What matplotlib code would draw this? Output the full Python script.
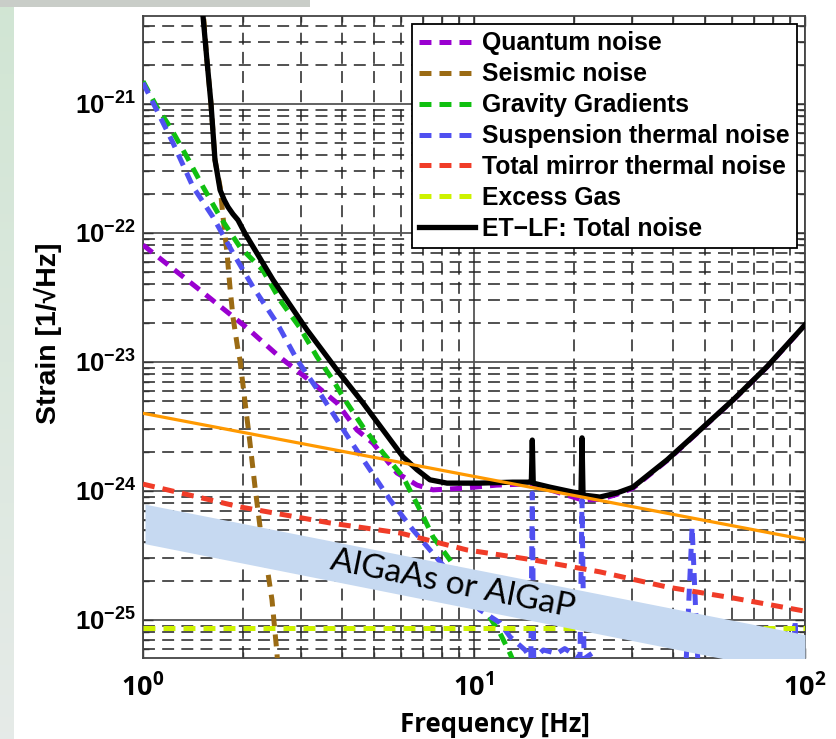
import numpy as np
import matplotlib
matplotlib.use('Agg')
import matplotlib.pyplot as plt
from matplotlib.ticker import LogLocator, NullFormatter, FixedLocator

plt.rcParams['lines.scale_dashes'] = False
plt.rcParams['mathtext.fontset'] = 'custom'
plt.rcParams['mathtext.bf'] = 'Liberation Sans:bold'
plt.rcParams['mathtext.rm'] = 'Liberation Sans:bold'
plt.rcParams['mathtext.sf'] = 'Open Sans:bold'

# ---------------- data ----------------
total_f = [1.48, 1.56, 1.605, 1.65, 1.71, 1.76, 1.806, 1.87, 1.936, 2.03, 2.47, 3.13, 3.855,
           4.62, 5.31, 6.10, 6.73, 7.36, 8.29, 10.4, 13.1, 14.56, 14.9, 15.0, 15.1, 16.97,
           19.9, 21.05, 21.2, 21.35, 24.0, 27.0, 30.2, 38.3, 48.2, 60.6, 76.8, 100.0]
total_h = [1.0e-20, 2.19e-21, 1.0e-21, 3.68e-22, 2.15e-22, 1.8e-22, 1.59e-22, 1.4e-22,
           1.26e-22, 1.0e-22, 4.33e-23, 1.77e-23, 8.67e-24, 4.81e-24, 2.97e-24, 1.84e-24,
           1.46e-24, 1.22e-24, 1.15e-24, 1.15e-24, 1.17e-24, 1.17e-24, 1.17e-24, 2.48e-24,
           1.15e-24, 1.07e-24, 9.8e-25, 9.6e-25, 2.58e-24, 9.3e-25, 8.97e-25, 9.64e-25,
           1.07e-24, 1.74e-24, 2.97e-24, 5.07e-24, 9.2e-24, 1.94e-23]

quantum_f = [1.0, 1.486, 2.06, 2.59, 3.26, 3.855, 4.43, 4.95, 5.85, 6.73, 7.52, 9.27, 11.7,
             14.06, 16.97, 21.3, 24.0, 27.0, 30.2, 38.3, 48.2, 60.6, 76.8, 100.0]
quantum_h = [8.07e-23, 3.61e-23, 1.84e-23, 1.09e-23, 6.87e-24, 4.81e-24, 2.97e-24, 2.35e-24,
             1.38e-24, 1.11e-24, 1.02e-24, 1.05e-24, 1.11e-24, 1.13e-24, 1.02e-24, 8.5e-25,
             8.6e-25, 9.4e-25, 1.05e-24, 1.72e-24, 2.95e-24, 5.05e-24, 9.15e-24, 1.93e-23]

seismic_f = [1.486, 1.56, 1.605, 1.65, 1.71, 1.745, 1.794, 1.831, 1.87, 1.936, 1.963, 2.03,
             2.105, 2.18, 2.257, 2.37, 2.453, 2.54, 2.577]
seismic_h = [1.1e-20, 2.19e-21, 1.0e-21, 3.68e-22, 2.28e-22, 1.33e-22, 7.0e-23, 3.81e-23,
             2.23e-23, 1.24e-23, 1.04e-23, 5.07e-24, 2.35e-24, 1.07e-24, 5.26e-25, 2.58e-25,
             1.43e-25, 5.5e-26, 2.9e-26]

gravity_f = [1.0, 1.10, 1.207, 1.358, 1.518, 1.71, 1.963, 2.30, 2.59, 2.98, 3.36, 3.75, 4.02,
             4.62, 5.31, 6.10, 6.87, 7.52, 8.46, 9.52, 10.95, 11.98, 12.85, 13.6]
gravity_h = [1.5e-21, 9.5e-22, 6.64e-22, 3.88e-22, 2.28e-22, 1.33e-22, 7.78e-23, 5.16e-23,
             3.03e-23, 1.84e-23, 1.09e-23, 7.24e-24, 5.36e-24, 3.13e-24, 1.97e-24, 1.29e-24,
             7.13e-25, 4.4e-25, 2.92e-25, 1.8e-25, 1.13e-25, 7.9e-26, 5.5e-26, 3.9e-26]

suspension_f = [1.0, 1.10, 1.232, 1.416, 1.627, 1.87, 2.15, 2.54, 2.92, 3.42, 4.22, 4.85, 5.58,
                6.54, 7.36, 8.29, 9.27, 10.4, 11.98, 12.85, 14.26, 14.85, 15.0, 15.15, 16.2,
                17.8, 18.8, 20.9, 21.2, 21.5, 22.7, 24.0, 43.7, 45.6, 47.5, 92.0, 93.3, 94.6]
suspension_h = [1.46e-21, 8.98e-22, 4.99e-22, 2.28e-22, 1.33e-22, 7.0e-23, 3.81e-23, 2.0e-23,
                1.04e-23, 5.75e-24, 2.48e-24, 1.46e-24, 8.51e-25, 4.99e-25, 3.49e-25, 2.44e-25,
                1.8e-25, 1.2e-25, 9.5e-26, 7.4e-26, 5.85e-26, 5.0e-26, 9.6e-25, 5.0e-26,
                5.85e-26, 5.5e-26, 6.0e-26, 5.0e-26, 8.5e-25, 5.0e-26, 5.5e-26, 3.0e-26,
                4.5e-26, 5.26e-25, 4.5e-26, 3.0e-26, 1.0e-25, 3.0e-26]

mirror_f = [1.0, 1.963, 3.67, 5.98, 9.52, 15.1, 24.0, 38.3, 60.6, 100.0]
mirror_h = [1.13e-24, 7.52e-25, 5.65e-25, 4.72e-25, 3.49e-25, 2.92e-25, 2.36e-25, 1.8e-25,
            1.48e-25, 1.17e-25]

gas_f = [1.0, 100.0]
gas_h = [8.7e-26, 8.7e-26]

orange_f = [1.0, 100.0]
orange_h = [4.0e-24, 4.2e-25]

band_f = [1.014, 100.0]
band_top = [7.9e-25, 7.7e-26]
band_bottom = [3.9e-25, 3.75e-26]
band_label = 'AlGaAs or AlGaP'
band_label_pos = (8.6, 1.9e-25)

labels = ['Quantum noise', 'Seismic noise', 'Gravity Gradients', 'Suspension thermal noise',
          'Total mirror thermal noise', 'Excess Gas', 'ET\u2212LF: Total noise']
colors = ['#9a00d0', '#9b6b14', '#10c010', '#5050f0', '#f03c28', '#cdf200', '#000000']

xticks = [1, 10, 100]
xticklabels = [r'$\mathsf{10^{0}}$', r'$\mathsf{10^{1}}$', r'$\mathsf{10^{2}}$']
yticks = [1e-25, 1e-24, 1e-23, 1e-22, 1e-21]
yticklabels = [r'$\mathbf{10^{-25}}$', r'$\mathbf{10^{-24}}$', r'$\mathbf{10^{-23}}$',
               r'$\mathbf{10^{-22}}$', r'$\mathbf{10^{-21}}$']

# ---------------- figure ----------------
W, H = 836, 739
fig = plt.figure(figsize=(W / 100, H / 100), dpi=100, facecolor='white')

# slide background strips
bg = fig.add_axes([0, 0, 14 / W, 1], zorder=-20)
grad = np.linspace(0, 1, 100).reshape(-1, 1)
c_top = np.array([0.82, 0.90, 0.83])
c_bot = np.array([0.90, 0.92, 0.91])
img = c_top[None, None, :] * (1 - grad[:, :, None]) + c_bot[None, None, :] * grad[:, :, None]
bg.imshow(img, aspect='auto', extent=[0, 1, 0, 1])
bg.axis('off')
topstrip = fig.add_axes([0, 1 - 7 / H, 310 / W, 7 / H], zorder=-20)
topstrip.set_facecolor('#c9cdc8')
topstrip.set_xticks([]); topstrip.set_yticks([])
for s in topstrip.spines.values():
    s.set_visible(False)

ax = fig.add_axes([143 / W, 1 - 658 / H, (805 - 143) / W, (658 - 16) / H])
ax.set_xscale('log')
ax.set_yscale('log')
ax.set_xlim(1, 100)
ax.set_ylim(5.07e-26, 4.81e-21)

dash = (0, (8.6, 5.8))
lw = 3.6
series = [(quantum_f, quantum_h), (seismic_f, seismic_h), (gravity_f, gravity_h),
          (suspension_f, suspension_h), (mirror_f, mirror_h), (gas_f, gas_h)]
handles = []
for (fx, hy), c, lab in zip(series, colors[:6], labels[:6]):
    ln, = ax.plot(fx, hy, color=c, lw=lw, linestyle=dash, label=lab, zorder=3,
                  dash_capstyle='butt', dash_joinstyle='round')
    handles.append(ln)
ln, = ax.plot(total_f, total_h, color='black', lw=3.8, label=labels[6], zorder=5,
              solid_joinstyle='round')
handles.append(ln)
ax.plot(orange_f, orange_h, color='#ff9900', lw=2.3, zorder=5.5)

ax.fill_between(band_f, band_bottom, band_top, color='#c6d9f1', lw=0, zorder=6)
ax.text(band_label_pos[0], band_label_pos[1], band_label, rotation=-11.2,
        rotation_mode='anchor', ha='center', va='center',
        fontsize=24, family='Lato', color='black', zorder=7)

# grid
ax.xaxis.set_major_locator(FixedLocator(xticks))
ax.yaxis.set_major_locator(FixedLocator(yticks))
ax.xaxis.set_minor_locator(LogLocator(base=10, subs=np.arange(2, 10), numticks=20))
ax.yaxis.set_minor_locator(LogLocator(base=10, subs=np.arange(2, 10), numticks=20))
ax.xaxis.set_minor_formatter(NullFormatter())
ax.yaxis.set_minor_formatter(NullFormatter())
ax.grid(which='major', color='#555555', lw=1.3, linestyle='-', zorder=1)
ax.grid(which='minor', color='#222222', lw=1.1, linestyle=(0, (8.6, 5.2)), zorder=1)
ax.set_axisbelow(True)
ax.set_xticklabels(xticklabels, fontsize=19.5)
ax.set_yticklabels(yticklabels, fontsize=18.5)
ax.tick_params(which='both', direction='in', top=True, right=True, color='#333333')
ax.tick_params(which='major', length=7, width=1.0)
ax.tick_params(which='minor', length=4, width=1.0)
ax.tick_params(axis='x', which='major', pad=11)
ax.tick_params(axis='y', which='major', pad=5)
for s in ax.spines.values():
    s.set_color('#444444')
    s.set_linewidth(1.3)

fig.text(495 / W, 1 - 732 / H, 'Frequency [Hz]', ha='center', va='baseline',
         fontsize=18.5, family='Open Sans', fontweight='bold')
fig.text(48 / W, 1 - 333 / H, 'Strain [1/\u221aHz]', rotation=90, ha='center', va='center',
         fontsize=20.5, fontweight='bold', family=['Liberation Sans', 'DejaVu Sans'])

leg = ax.legend(handles=handles, loc='upper right', bbox_to_anchor=(0.988, 0.9875),
                borderaxespad=0, fancybox=False, framealpha=1, edgecolor='black',
                prop={'family': 'Liberation Sans', 'weight': 'bold', 'size': 17.8},
                handlelength=2.25, handletextpad=0.28, labelspacing=0.28, borderpad=0.3)
leg.get_frame().set_linewidth(1.3)
leg.set_zorder(10)

fig.savefig('out.png', dpi=100, facecolor='white')
